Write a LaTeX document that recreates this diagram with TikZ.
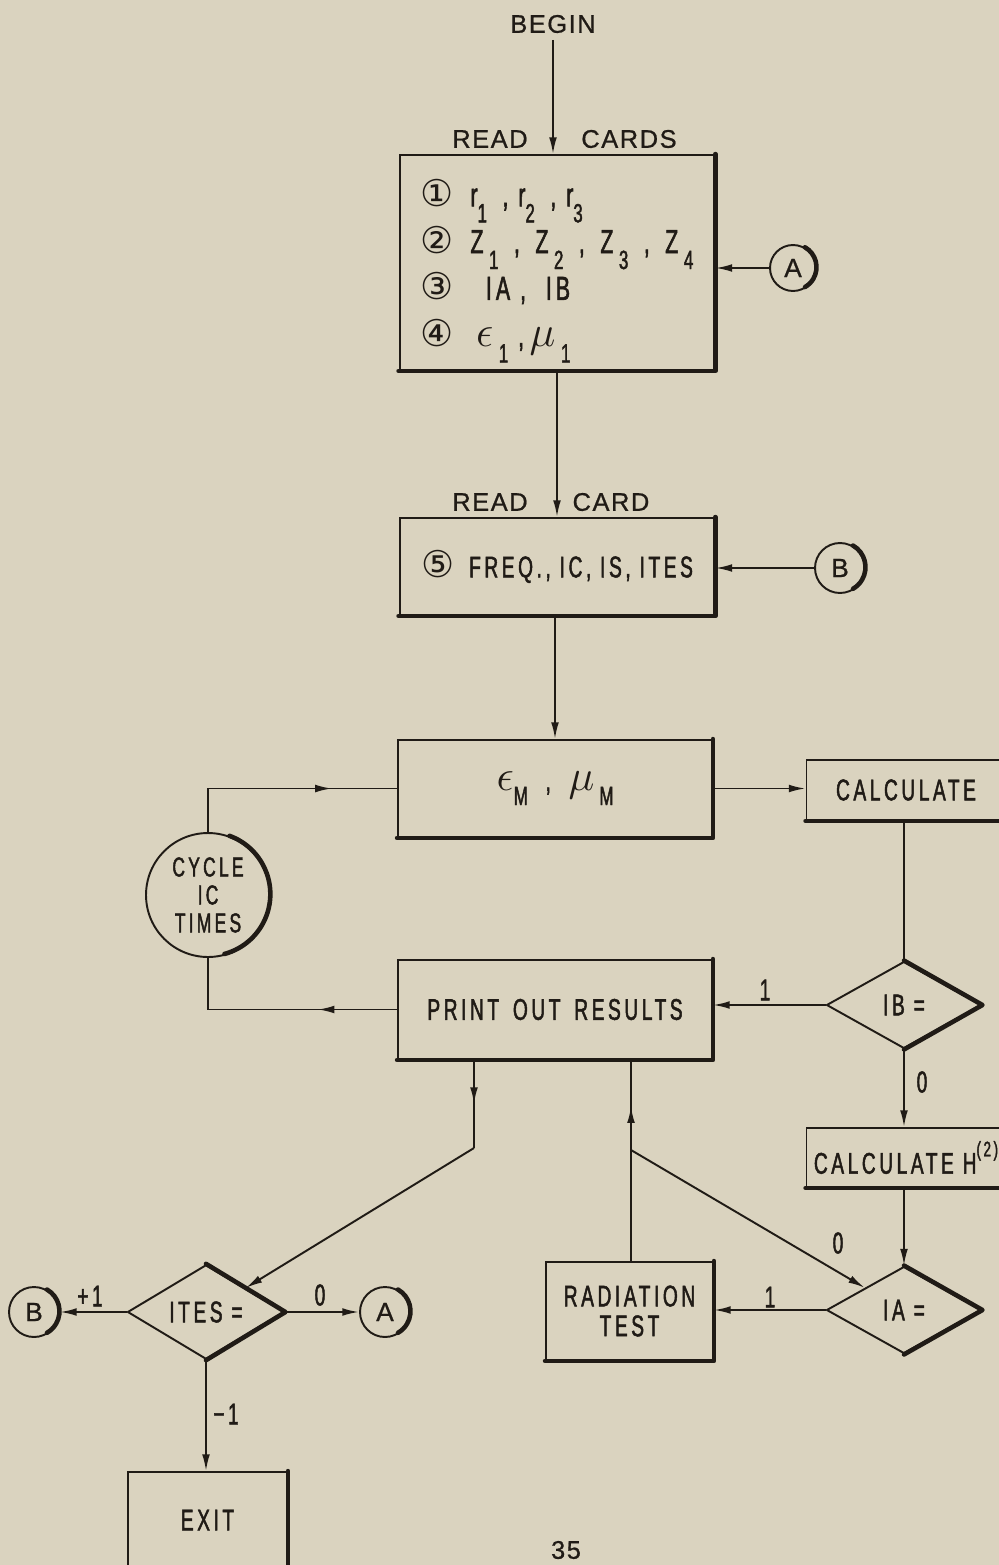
\documentclass[tikz,border=0pt]{standalone}
\usepackage{fontspec}
\setmainfont{Liberation Sans}
\newfontfamily\condf{Liberation Sans}[FakeStretch=0.64,LetterSpace=12,FakeBold=1.6]
\newfontfamily\widef{Liberation Sans}[LetterSpace=6,FakeBold=0.8]
\newfontfamily\dvf{DejaVu Sans}
\usetikzlibrary{shapes.geometric,arrows.meta,decorations.markings}
\definecolor{paper}{RGB}{218,211,191}
\definecolor{ink}{RGB}{32,27,22}
\newcommand\lsub[1]{\raisebox{-0.9ex}{\fontsize{15}{15}\selectfont #1}}
\newcommand\cnum[1]{{\dvf\fontsize{21}{21}\selectfont #1}}
\begin{document}
\begin{tikzpicture}[x=0.02cm,y=0.02cm,color=ink,line width=1.1pt,
  box/.style={draw,rectangle,inner sep=0pt,font=\condf\fontsize{17}{20}\selectfont},
  dia/.style={draw,diamond,inner sep=0pt,minimum width=3.1cm,minimum height=1.74cm,font=\condf\fontsize{17}{20}\selectfont},
  conn/.style={draw,circle,inner sep=0pt,font=\widef\fontsize{15}{18}\selectfont},
  heavy/.style={line width=2.6pt,line cap=round,line join=round},
  arr/.style={-{Latex[length=9.5pt,width=4.4pt]}},
  midarr/.style={postaction={decorate},decoration={markings,mark=at position #1 with {\arrow{Latex[length=9.5pt,width=4.4pt]}}}},
  lbl/.style={inner sep=0pt,font=\condf\fontsize{17}{20}\selectfont},
  wlbl/.style={inner sep=0pt,font=\widef\fontsize{14.5}{18}\selectfont}]
\fill[paper] (0,0) rectangle (999,-1565);
\useasboundingbox (0,0) rectangle (999,-1565);

% ---- top texts
\node[wlbl] (begin) at (553,-24) {BEGIN};
\node[wlbl] (read1) at (490,-139) {READ};
\node[wlbl] (cards) at (629,-139) {CARDS};
\node[wlbl] (read2) at (490,-502) {READ};
\node[wlbl] (card) at (611,-502) {CARD};

% ---- boxes
\node[box,minimum width=6.3cm,minimum height=4.3cm,align=left,
  font=\condf\fontsize{19}{26.6}\selectfont] (b1) at (557,-262.5)
  {\rule{0pt}{25pt}\cnum{①}\enspace r\lsub{1}\ \,,\ r\lsub{2}\ \,,\ r\lsub{3}\\
   \cnum{②}\enspace Z\,\lsub{1}\ \,,\ \,Z\,\lsub{2}\ \,,\ \,Z\,\lsub{3}\ \,,\ \,Z\,\lsub{4}\\
   \cnum{③}\enspace\,\ IA\ , \ IB\\
   \cnum{④}\enspace\,{\fontsize{23}{23}\selectfont$\epsilon$}\,\lsub{1}\ ,\,{\fontsize{23}{23}\selectfont$\mu$}\,\lsub{1}};
\node[box,minimum width=6.3cm,minimum height=1.94cm] (b2) at (557,-566.5)
  {\cnum{⑤}\enspace FREQ., IC, IS, ITES};
\node[box,minimum width=6.28cm,minimum height=1.94cm] (b3) at (555,-788.5)
  {{\fontsize{30}{30}\selectfont$\epsilon$}\lsub{M}\ \ ,\ \ {\fontsize{28}{28}\selectfont$\mu$}\,\lsub{M}};
\node[box,minimum width=6.28cm,minimum height=1.98cm] (print) at (555,-1009.5)
  {PRINT\ \,OUT\ \,RESULTS};
\node[box,minimum width=3.98cm,minimum height=1.2cm] (calc) at (906,-790)
  {CALCULATE};
\node[box,minimum width=3.98cm,minimum height=1.18cm] (calch) at (906,-1157.5)
  {CALCULATE\ H\raisebox{1.1ex}{\fontsize{12}{12}\selectfont (2)}};
\node[box,minimum width=3.34cm,minimum height=1.96cm,align=center,
  font=\condf\fontsize{17}{17}\selectfont] (rad) at (629.5,-1311)
  {RADIATION\\TEST};
\node[box,minimum width=3.18cm,minimum height=1.92cm] (exit) at (207.5,-1520)
  {EXIT};

% ---- decisions
\node[dia] (ib) at (904,-1005) {IB =};
\node[dia] (ia) at (904,-1310) {IA =};
\node[dia,minimum width=3.14cm,minimum height=1.78cm] (ites) at (206,-1312) {ITES =};

% ---- connectors (circles)
\node[conn,minimum size=0.92cm] (atop) at (793,-268) {A};
\node[conn,minimum size=1.0cm] (btop) at (840,-568) {B};
\node[conn,minimum size=1.0cm] (bbot) at (34,-1312) {B};
\node[conn,minimum size=1.0cm] (abot) at (385,-1312) {A};
\node[conn,minimum size=2.48cm,align=center,
  font=\condf\fontsize{15.5}{15.9}\selectfont] (cyc) at (208,-895)
  {CYCLE\\IC\\TIMES};

% ---- heavy (shadow) edges
\foreach \n in {b1,b2,b3,print,calc,calch,rad,exit}
  \draw[heavy] (\n.north east) -- (\n.south east) -- (\n.south west);
\foreach \n in {ib,ia,ites}
  \draw[heavy] (\n.north) -- (\n.east) -- (\n.south);
\draw[heavy] (atop.60) arc[start angle=60,end angle=-60,radius=0.46cm];
\draw[heavy] (btop.60) arc[start angle=60,end angle=-60,radius=0.5cm];
\draw[heavy] (bbot.60) arc[start angle=60,end angle=-60,radius=0.5cm];
\draw[heavy] (abot.60) arc[start angle=60,end angle=-60,radius=0.5cm];
\draw[heavy] (cyc.70) arc[start angle=70,end angle=-75,radius=1.24cm];

% ---- coordinates
\coordinate (k) at (474,-1148);
\coordinate (j) at (631,-1150);

% ---- flow lines
\draw[arr] (begin.south) ++(0,-6) -- (begin.south |- b1.north);
\draw[arr] (b1.south) -- (b2.north);
\draw[arr] (b2.south -| b3.north) -- (b3.north);
\draw[arr] (atop.west) -- (atop.west -| b1.east);
\draw[arr] (btop.west) -- (btop.west -| b2.east);
\draw[arr] (b3.east) -- (b3.east -| calc.west);
\draw (ib.north |- calc.south) -- (ib.north);
\draw[arr] (ib.west) -- (ib.west -| print.east);
\draw[arr] (ib.south) -- (ib.south |- calch.north);
\draw[arr] (ia.north |- calch.south) -- (ia.north);
\draw[arr] (ia.west) -- (ia.west -| rad.east);
\draw[midarr=0.77] (j |- rad.north) -- (j |- print.south);
\draw[arr] (j) -- (ia.north west);
\draw[midarr=0.5] (print.south -| k) -- (k);
\draw[arr] (k) -- (ites.north east);
\draw[midarr=0.72] (cyc.north) |- (b3.west);
\draw[midarr=0.33] (print.west) -| (cyc.south);
\draw[arr] (ites.west) -- (bbot.east);
\draw[arr] (ites.east) -- (abot.west);
\draw[arr] (ites.south) -- (ites.south |- exit.north);

% ---- branch labels
\node[lbl] (l1a) at (765,-990) {1};
\node[lbl] (l0a) at (922,-1082) {0};
\node[lbl] (l0b) at (838,-1243) {0};
\node[lbl] (l1b) at (770,-1297) {1};
\node[lbl] (lp1) at (90,-1296) {+1};
\node[lbl] (l0c) at (320,-1295) {0};
\node[lbl] (lm1) at (226,-1414) {−1};

% ---- page number
\node[wlbl,anchor=north] (page) at (566,-1540) {35};
\end{tikzpicture}
\end{document}
